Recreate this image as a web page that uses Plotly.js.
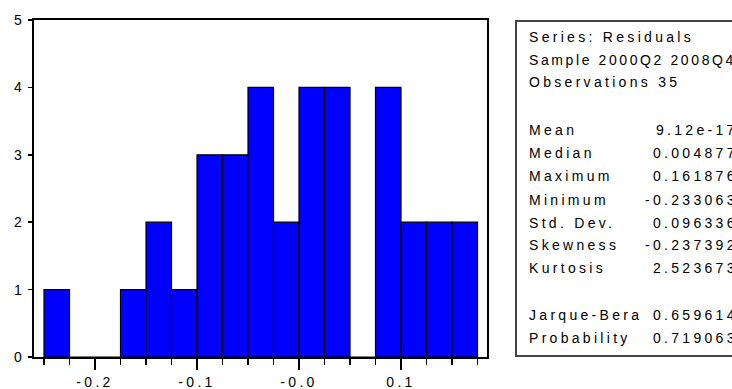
<!DOCTYPE html>
<html>
<head>
<meta charset="utf-8">
<script src="https://cdn.plot.ly/plotly-3.0.1.min.js"></script>
<style>
  html, body { margin: 0; padding: 0; background: #fff; }
  #chart { width: 732px; height: 389px; }
  svg text { letter-spacing: 3.3px; }
</style>
</head>
<body>
<div id="chart"></div>
<script>
// ---- data ----
const binLeftEdges = [-0.25, -0.225, -0.2, -0.175, -0.15, -0.125, -0.1, -0.075, -0.05, -0.025, 0.0, 0.025, 0.05, 0.075, 0.1, 0.125, 0.15];
const binCounts    = [1, 0, 0, 1, 2, 1, 3, 3, 4, 2, 4, 4, 0, 4, 2, 2, 2];
const binWidth = 0.025;

const xTickVals  = [-0.2, -0.1, 0.0, 0.1];
const xTickText  = ["-0.2", "-0.1", "-0.0", "0.1"];
const yTickVals  = [0, 1, 2, 3, 4, 5];

const headerLines = ["Series: Residuals", "Sample 2000Q2 2008Q4", "Observations 35"];
const statNames   = ["Mean", "Median", "Maximum", "Minimum", "Std. Dev.", "Skewness", "Kurtosis", "Jarque-Bera", "Probability"];
const statValues  = ["9.12e-17", "0.004877", "0.161876", "-0.233063", "0.096336", "-0.237392", "2.523673", "0.659614", "0.719063"];

// ---- layout geometry (pixels) ----
const W = 732, H = 389;
const M = {l: 34, r: 245, t: 20, b: 32};
const plotW = W - M.l - M.r, plotH = H - M.t - M.b;
const px2x = p => (p - M.l) / plotW;
const py2y = p => (H - M.b - p) / plotH;

const headerY = [37, 60, 82];
const headerSpacing = ["3.3px", "2.6px", "3.3px"];
const statY   = [130, 153, 176, 200, 223, 245, 268, 315, 338];
const labelX = 527, valueRight = 740;

const font = {family: "Liberation Sans, Arial, sans-serif", size: 14, color: "#000"};

const annotations = [];
headerLines.forEach((t, i) => annotations.push({
  xref: "paper", yref: "paper", x: px2x(labelX), y: py2y(headerY[i]),
  xanchor: "left", yanchor: "middle",
  text: '<span style="letter-spacing:' + headerSpacing[i] + '">' + t + '</span>',
  showarrow: false, font: font
}));
statNames.forEach((t, i) => {
  annotations.push({
    xref: "paper", yref: "paper", x: px2x(labelX), y: py2y(statY[i]),
    xanchor: "left", yanchor: "middle", text: t, showarrow: false, font: font
  });
  annotations.push({
    xref: "paper", yref: "paper", x: px2x(valueRight), y: py2y(statY[i]),
    xanchor: "right", yanchor: "middle", text: statValues[i], showarrow: false, font: font
  });
});

const trace = {
  type: "bar",
  x: binLeftEdges,
  y: binCounts,
  offset: 0,
  width: binWidth,
  marker: {color: "#0000FF", line: {color: "#000", width: 1.2}},
  hoverinfo: "skip"
};

const layout = {
  width: W, height: H,
  margin: M,
  paper_bgcolor: "#fff", plot_bgcolor: "#fff",
  showlegend: false,
  font: font,
  bargap: 0,
  xaxis: {
    range: [-0.2598, 0.1843],
    tickmode: "array", tickvals: xTickVals, ticktext: xTickText,
    ticks: "outside", ticklen: 11, tickwidth: 1.5, tickcolor: "#000",
    ticklabelstandoff: 0,
    minor: {tickmode: "linear", tick0: -0.25, dtick: 0.025, ticks: "outside", ticklen: 6, tickwidth: 1.5, tickcolor: "#000", showgrid: false},
    showline: true, linecolor: "#000", linewidth: 2, mirror: true,
    showgrid: false, zeroline: false, tickfont: font
  },
  yaxis: {
    range: [0, 5],
    tickmode: "array", tickvals: yTickVals,
    ticks: "outside", ticklen: 4, tickwidth: 1.5, tickcolor: "#000",
    showline: true, linecolor: "#000", linewidth: 2, mirror: true,
    showgrid: false, zeroline: false, tickfont: font
  },
  shapes: [{
    type: "rect", xref: "paper", yref: "paper",
    x0: px2x(516), x1: px2x(760), y0: py2y(356), y1: py2y(21),
    line: {color: "#444", width: 2}, fillcolor: "rgba(0,0,0,0)"
  }],
  annotations: annotations
};

Plotly.newPlot("chart", [trace], layout, {staticPlot: true, displayModeBar: false});
</script>
</body>
</html>
